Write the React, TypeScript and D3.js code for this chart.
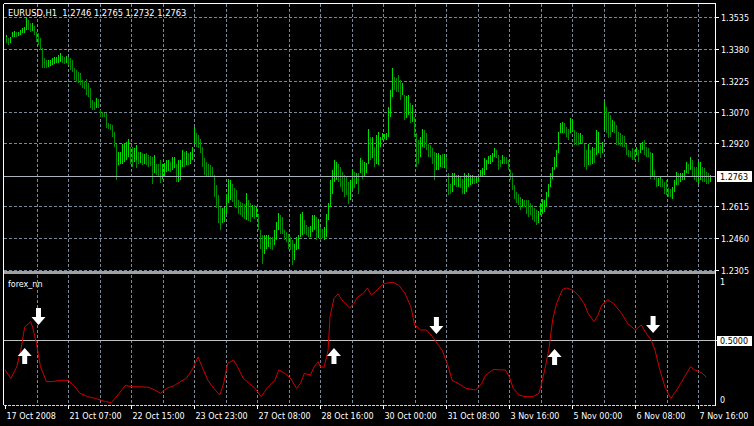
import { useEffect, useRef } from 'react';
import * as d3 from 'd3';

// EURUSD H1 bars (high / low), one entry per hourly bar
const barHigh = [
  1.3446, 1.3438, 1.3430, 1.3438, 1.3462, 1.3467, 1.3462, 1.3462, 1.3470, 1.3478,
  1.3486, 1.3527, 1.3519, 1.3503, 1.3506, 1.3490, 1.3462, 1.3454, 1.3430, 1.3381,
  1.3333, 1.3327, 1.3324, 1.3327, 1.3333, 1.3341, 1.3338, 1.3349, 1.3357, 1.3344,
  1.3338, 1.3344, 1.3338, 1.3333, 1.3324, 1.3284, 1.3276, 1.3268, 1.3260, 1.3227,
  1.3224, 1.3232, 1.3211, 1.3187, 1.3130, 1.3122, 1.3138, 1.3133, 1.3081, 1.3073,
  1.3068, 1.3065, 1.3017, 1.3014, 1.3009, 1.2976, 1.2919, 1.2879, 1.2879, 1.2919,
  1.2916, 1.2928, 1.2939, 1.2903, 1.2903, 1.2895, 1.2911, 1.2911, 1.2879, 1.2879,
  1.2871, 1.2868, 1.2871, 1.2863, 1.2858, 1.2855, 1.2863, 1.2822, 1.2819, 1.2838,
  1.2822, 1.2825, 1.2841, 1.2838, 1.2830, 1.2855, 1.2852, 1.2822, 1.2838, 1.2841,
  1.2887, 1.2879, 1.2884, 1.2871, 1.2879, 1.2903, 1.3000, 1.2968, 1.2960, 1.2939,
  1.2903, 1.2847, 1.2830, 1.2822, 1.2814, 1.2806, 1.2766, 1.2717, 1.2668, 1.2612,
  1.2604, 1.2612, 1.2676, 1.2749, 1.2741, 1.2725, 1.2701, 1.2693, 1.2644, 1.2636,
  1.2628, 1.2625, 1.2680, 1.2644, 1.2628, 1.2620, 1.2620, 1.2612, 1.2579, 1.2498,
  1.2474, 1.2474, 1.2474, 1.2469, 1.2474, 1.2466, 1.2466, 1.2498, 1.2539, 1.2582,
  1.2571, 1.2563, 1.2498, 1.2490, 1.2482, 1.2466, 1.2450, 1.2433, 1.2466, 1.2474,
  1.2579, 1.2587, 1.2547, 1.2523, 1.2514, 1.2517, 1.2571, 1.2571, 1.2563, 1.2555,
  1.2514, 1.2506, 1.2514, 1.2579, 1.2628, 1.2741, 1.2790, 1.2838, 1.2830, 1.2822,
  1.2806, 1.2782, 1.2766, 1.2757, 1.2733, 1.2741, 1.2793, 1.2782, 1.2774, 1.2774,
  1.2847, 1.2838, 1.2830, 1.2825, 1.2992, 1.2952, 1.2952, 1.2903, 1.2960, 1.2976,
  1.2952, 1.2968, 1.2965, 1.2968, 1.3098, 1.3179, 1.3284, 1.3243, 1.3235, 1.3247,
  1.3252, 1.3227, 1.3211, 1.3154, 1.3149, 1.3154, 1.3114, 1.3106, 1.3049, 1.2968,
  1.2936, 1.2952, 1.2992, 1.2984, 1.2968, 1.2919, 1.2911, 1.2895, 1.2879, 1.2871,
  1.2871, 1.2863, 1.2868, 1.2868, 1.2855, 1.2774, 1.2725, 1.2774, 1.2774, 1.2766,
  1.2766, 1.2757, 1.2749, 1.2774, 1.2766, 1.2774, 1.2766, 1.2766, 1.2757, 1.2757,
  1.2766, 1.2793, 1.2798, 1.2847, 1.2838, 1.2858, 1.2863, 1.2871, 1.2895, 1.2887,
  1.2863, 1.2838, 1.2863, 1.2855, 1.2852, 1.2838, 1.2790, 1.2774, 1.2717, 1.2685,
  1.2676, 1.2660, 1.2652, 1.2647, 1.2644, 1.2644, 1.2644, 1.2628, 1.2620, 1.2604,
  1.2595, 1.2592, 1.2628, 1.2652, 1.2647, 1.2685, 1.2725, 1.2774, 1.2806, 1.2855,
  1.2887, 1.2976, 1.3017, 1.3025, 1.3020, 1.3000, 1.2992, 1.3041, 1.3033, 1.2984,
  1.2976, 1.2968, 1.2968, 1.2960, 1.2919, 1.2887, 1.2919, 1.2887, 1.2903, 1.2895,
  1.2984, 1.2976, 1.2911, 1.2928, 1.3122, 1.3098, 1.3073, 1.3057, 1.3033, 1.3030,
  1.3009, 1.2976, 1.2968, 1.2960, 1.2955, 1.2919, 1.2887, 1.2884, 1.2895, 1.2890,
  1.2903, 1.2887, 1.2919, 1.2928, 1.2936, 1.2903, 1.2895, 1.2879, 1.2871, 1.2790,
  1.2757, 1.2754, 1.2757, 1.2749, 1.2749, 1.2733, 1.2741, 1.2701, 1.2696, 1.2709,
  1.2741, 1.2782, 1.2777, 1.2774, 1.2774, 1.2790, 1.2830, 1.2822, 1.2855, 1.2838,
  1.2806, 1.2803, 1.2830, 1.2830, 1.2806, 1.2798, 1.2782, 1.2774, 1.2765,
];

const barLow = [
  1.3405, 1.3405, 1.3397, 1.3405, 1.3435, 1.3438, 1.3435, 1.3441, 1.3446, 1.3454,
  1.3457, 1.3470, 1.3470, 1.3462, 1.3467, 1.3446, 1.3414, 1.3397, 1.3373, 1.3284,
  1.3284, 1.3287, 1.3292, 1.3295, 1.3300, 1.3305, 1.3308, 1.3311, 1.3316, 1.3308,
  1.3305, 1.3308, 1.3300, 1.3276, 1.3268, 1.3227, 1.3219, 1.3211, 1.3203, 1.3187,
  1.3182, 1.3154, 1.3146, 1.3090, 1.3081, 1.3081, 1.3090, 1.3090, 1.3049, 1.3049,
  1.3046, 1.2995, 1.2992, 1.2987, 1.2952, 1.2903, 1.2741, 1.2814, 1.2822, 1.2822,
  1.2830, 1.2838, 1.2855, 1.2822, 1.2806, 1.2830, 1.2798, 1.2838, 1.2822, 1.2825,
  1.2814, 1.2819, 1.2814, 1.2806, 1.2809, 1.2725, 1.2774, 1.2766, 1.2760, 1.2728,
  1.2749, 1.2757, 1.2782, 1.2787, 1.2782, 1.2790, 1.2798, 1.2733, 1.2733, 1.2741,
  1.2806, 1.2806, 1.2814, 1.2814, 1.2822, 1.2838, 1.2919, 1.2903, 1.2895, 1.2871,
  1.2806, 1.2766, 1.2757, 1.2757, 1.2760, 1.2757, 1.2660, 1.2604, 1.2531, 1.2498,
  1.2531, 1.2539, 1.2579, 1.2628, 1.2644, 1.2636, 1.2612, 1.2604, 1.2579, 1.2571,
  1.2563, 1.2555, 1.2547, 1.2544, 1.2539, 1.2563, 1.2555, 1.2563, 1.2498, 1.2409,
  1.2336, 1.2385, 1.2409, 1.2414, 1.2417, 1.2409, 1.2401, 1.2425, 1.2450, 1.2498,
  1.2482, 1.2482, 1.2450, 1.2442, 1.2409, 1.2401, 1.2328, 1.2352, 1.2401, 1.2409,
  1.2466, 1.2474, 1.2482, 1.2474, 1.2463, 1.2466, 1.2490, 1.2498, 1.2450, 1.2458,
  1.2450, 1.2458, 1.2450, 1.2466, 1.2547, 1.2612, 1.2676, 1.2733, 1.2741, 1.2733,
  1.2709, 1.2685, 1.2660, 1.2668, 1.2625, 1.2644, 1.2693, 1.2701, 1.2725, 1.2676,
  1.2774, 1.2749, 1.2757, 1.2774, 1.2822, 1.2838, 1.2847, 1.2806, 1.2822, 1.2814,
  1.2903, 1.2936, 1.2939, 1.2936, 1.2952, 1.3049, 1.3146, 1.3179, 1.3171, 1.3176,
  1.3171, 1.3130, 1.3154, 1.3033, 1.3041, 1.3057, 1.3017, 1.3025, 1.2952, 1.2806,
  1.2822, 1.2855, 1.2903, 1.2895, 1.2887, 1.2855, 1.2855, 1.2822, 1.2741, 1.2790,
  1.2790, 1.2806, 1.2798, 1.2798, 1.2790, 1.2668, 1.2676, 1.2685, 1.2717, 1.2709,
  1.2709, 1.2701, 1.2676, 1.2676, 1.2685, 1.2709, 1.2717, 1.2725, 1.2725, 1.2728,
  1.2733, 1.2757, 1.2757, 1.2766, 1.2790, 1.2822, 1.2822, 1.2830, 1.2855, 1.2847,
  1.2790, 1.2806, 1.2822, 1.2822, 1.2819, 1.2790, 1.2741, 1.2693, 1.2652, 1.2628,
  1.2620, 1.2595, 1.2612, 1.2612, 1.2579, 1.2587, 1.2563, 1.2571, 1.2547, 1.2539,
  1.2523, 1.2531, 1.2571, 1.2579, 1.2587, 1.2612, 1.2660, 1.2709, 1.2749, 1.2790,
  1.2806, 1.2871, 1.2968, 1.2968, 1.2971, 1.2952, 1.2936, 1.2968, 1.2976, 1.2911,
  1.2911, 1.2911, 1.2919, 1.2919, 1.2806, 1.2790, 1.2814, 1.2814, 1.2822, 1.2825,
  1.2863, 1.2871, 1.2847, 1.2871, 1.2984, 1.2968, 1.2944, 1.2952, 1.2976, 1.2971,
  1.2911, 1.2911, 1.2906, 1.2903, 1.2903, 1.2863, 1.2855, 1.2852, 1.2838, 1.2841,
  1.2863, 1.2830, 1.2871, 1.2887, 1.2863, 1.2855, 1.2852, 1.2749, 1.2757, 1.2741,
  1.2709, 1.2712, 1.2717, 1.2709, 1.2706, 1.2676, 1.2668, 1.2660, 1.2660, 1.2652,
  1.2685, 1.2717, 1.2717, 1.2733, 1.2741, 1.2741, 1.2774, 1.2771, 1.2790, 1.2757,
  1.2741, 1.2733, 1.2725, 1.2741, 1.2733, 1.2733, 1.2725, 1.2725, 1.2732,
];

const lastBar = { open: 1.2746, high: 1.2765, low: 1.2732, close: 1.2763 };

const priceTicks = [1.3535, 1.338, 1.3225, 1.307, 1.292, 1.2615, 1.246, 1.2305];

// bottom axis: a label every 32 bars
const timeLabels = [
  '17 Oct 2008', '21 Oct 07:00', '22 Oct 15:00', '23 Oct 23:00', '27 Oct 08:00', '28 Oct 16:00',
  '30 Oct 00:00', '31 Oct 08:00', '3 Nov 16:00', '5 Nov 00:00', '6 Nov 08:00', '7 Nov 16:00',
];

// forex_nn indicator (bar index, value)
const nnBars = [
  0, 3, 6, 8, 10, 13, 14, 16, 18, 21, 24, 28, 32, 35, 38, 42, 46, 51, 54, 58,
  61, 65, 69, 73, 76, 79, 82, 86, 89, 92, 95, 98, 100, 103, 106, 109, 111, 113, 116, 118,
  121, 124, 127, 130, 133, 137, 139, 142, 145, 148, 150, 152, 155, 157, 159, 160, 162, 164, 165, 167,
  169, 171, 175, 177, 179, 182, 184, 186, 189, 191, 193, 197, 200, 203, 206, 208, 211, 214, 217, 220,
  222, 225, 227, 230, 234, 239, 242, 244, 248, 251, 254, 256, 258, 261, 264, 268, 271, 272, 274, 276,
  278, 280, 283, 285, 288, 291, 294, 296, 299, 301, 303, 306, 309, 313, 316, 320, 323, 325, 328, 330,
  332, 335, 338, 341, 343, 345, 348, 350, 352, 354, 356,
];
const nnValues = [
  0.27, 0.205, 0.295, 0.42, 0.6, 0.64, 0.6, 0.47, 0.295, 0.18, 0.18, 0.19, 0.19, 0.15, 0.09, 0.064, 0.05, 0.026, 0.018, 0.09,
  0.15, 0.14, 0.14, 0.136, 0.115, 0.09, 0.128, 0.15, 0.18, 0.205, 0.27, 0.37, 0.295, 0.19, 0.128, 0.077, 0.166, 0.32, 0.346, 0.295,
  0.205, 0.166, 0.128, 0.064, 0.128, 0.19, 0.27, 0.244, 0.205, 0.128, 0.166, 0.244, 0.23, 0.295, 0.333, 0.295, 0.29, 0.42, 0.68, 0.82,
  0.854, 0.81, 0.744, 0.78, 0.83, 0.86, 0.9, 0.846, 0.885, 0.92, 0.936, 0.944, 0.92, 0.86, 0.756, 0.615, 0.577, 0.577, 0.526, 0.46,
  0.42, 0.295, 0.19, 0.166, 0.128, 0.115, 0.166, 0.23, 0.274, 0.27, 0.27, 0.218, 0.128, 0.077, 0.064, 0.064, 0.09, 0.14, 0.27, 0.42,
  0.654, 0.78, 0.89, 0.9, 0.885, 0.846, 0.78, 0.705, 0.64, 0.69, 0.77, 0.81, 0.78, 0.705, 0.628, 0.577, 0.615, 0.564, 0.5, 0.42,
  0.295, 0.14, 0.05, 0.115, 0.166, 0.218, 0.295, 0.27, 0.26, 0.244, 0.213,
];

// buy / sell signal arrows
const upBars = [10, 167, 279];
const upLevels = [0.377, 0.377, 0.37];
const downBars = [17, 219, 329];
const downLevels = [0.685, 0.615, 0.623];

export default function App() {
  const svgRef = useRef<SVGSVGElement>(null);

  useEffect(() => {
    document.body.style.margin = '0';
    document.body.style.background = '#000';
    const svg = d3.select(svgRef.current);
    svg.selectAll('*').remove();

    const left = 4;
    const right = 715;
    const mainTop = 4;
    const mainBottom = 270;
    const subTop = 275;
    const subBottom = 405;
    const gridColor = '#778899';
    const font = 'DejaVu Sans, Verdana, sans-serif';

    const x = d3.scaleLinear().domain([0, 352]).range([5, 698.4]);
    const y = d3.scaleLinear().domain([1.2305, 1.3535]).range([mainBottom, 16.7]);
    const yNN = d3.scaleLinear().domain([0, 1]).range([subBottom, subTop]);
    const px = (v: number) => Math.round(v) + 0.5;

    const g = svg.append('g').attr('shape-rendering', 'crispEdges');

    // vertical grid (every 16 bars)
    const gridBars = d3.range(16, 353, 16);
    [[mainTop, mainBottom], [subTop, subBottom]].forEach(([a, b]) => {
      g.selectAll(null)
        .data(gridBars)
        .enter()
        .append('line')
        .attr('x1', (d) => px(x(d)))
        .attr('x2', (d) => px(x(d)))
        .attr('y1', a)
        .attr('y2', b)
        .attr('stroke', gridColor)
        .attr('stroke-dasharray', '3,2');
    });

    // horizontal grid
    g.selectAll(null)
      .data(priceTicks)
      .enter()
      .append('line')
      .attr('x1', left)
      .attr('x2', right)
      .attr('y1', (d) => px(y(d)))
      .attr('y2', (d) => px(y(d)))
      .attr('stroke', gridColor)
      .attr('stroke-dasharray', '3,2');

    // price bars, 1px wide each, kept on an even pixel column
    const mids = barHigh.map((h, i) => (h + barLow[i]) / 2);
    g.selectAll(null)
      .data(barHigh)
      .enter()
      .append('rect')
      .attr('x', (_, i) => Math.round(x(i) / 2) * 2)
      .attr('width', 1)
      .attr('y', (d) => Math.round(y(d)))
      .attr('height', (d, i) => Math.max(1, Math.round(y(barLow[i])) - Math.round(y(d))))
      .attr('fill', (_, i) => {
        if (i === barHigh.length - 1) return lastBar.close >= lastBar.open ? '#00dc00' : '#008c00';
        return i === 0 || mids[i] >= mids[i - 1] ? '#00dc00' : '#008c00';
      });

    // bid line
    const yBid = px(y(lastBar.close));
    g.append('line')
      .attr('x1', left)
      .attr('x2', right)
      .attr('y1', yBid)
      .attr('y2', yBid)
      .attr('stroke', '#a9b3bd');

    // panel separator
    g.append('rect').attr('x', left).attr('y', 271).attr('width', right - left).attr('height', 3).attr('fill', '#a0a0a0');

    // level 0.5
    const yHalf = px(yNN(0.5));
    g.append('line').attr('x1', left).attr('x2', right).attr('y1', yHalf).attr('y2', yHalf).attr('stroke', '#c0c0c0');

    // borders
    g.append('line').attr('x1', left - 0.5).attr('x2', right + 0.5).attr('y1', 3.5).attr('y2', 3.5).attr('stroke', '#fff');
    g.append('line').attr('x1', 3.5).attr('x2', 3.5).attr('y1', 3.5).attr('y2', subBottom).attr('stroke', '#fff');
    g.append('line').attr('x1', right + 0.5).attr('x2', right + 0.5).attr('y1', 3.5).attr('y2', subBottom + 0.5).attr('stroke', '#fff');
    g.append('line')
      .attr('x1', left)
      .attr('x2', right)
      .attr('y1', subBottom + 0.5)
      .attr('y2', subBottom + 0.5)
      .attr('stroke', '#d0d0d0')
      .attr('stroke-dasharray', '3,1');

    // indicator line
    const nnLine = d3
      .line<number>()
      .x((d) => x(d))
      .y((_, i) => yNN(nnValues[i]));
    svg
      .append('path')
      .attr('d', nnLine(nnBars))
      .attr('fill', 'none')
      .attr('stroke', '#d00000')
      .attr('stroke-width', 1);

    // signal arrows
    const upArrow = 'M0,-8 L7,0 L2.5,0 L2.5,8 L-2.5,8 L-2.5,0 L-7,0 Z';
    const downArrow = 'M0,9 L7,1 L2.5,1 L2.5,-8 L-2.5,-8 L-2.5,1 L-7,1 Z';
    svg
      .selectAll(null)
      .data(upBars)
      .enter()
      .append('path')
      .attr('d', upArrow)
      .attr('transform', (d, i) => `translate(${x(d)},${yNN(upLevels[i])})`)
      .attr('fill', '#fff');
    svg
      .selectAll(null)
      .data(downBars)
      .enter()
      .append('path')
      .attr('d', downArrow)
      .attr('transform', (d, i) => `translate(${x(d)},${yNN(downLevels[i])})`)
      .attr('fill', '#fff');

    // texts
    const txt = svg.append('g').attr('font-family', font).attr('font-size', 8).attr('fill', '#fff');

    txt
      .append('text')
      .attr('x', 8)
      .attr('y', 16)
      .attr('font-size', 8.3)
      .attr('xml:space', 'preserve')
      .text(`EURUSD,H1  ${lastBar.open.toFixed(4)} ${lastBar.high.toFixed(4)} ${lastBar.low.toFixed(4)} ${lastBar.close.toFixed(4)}`);

    txt.append('text').attr('x', 8).attr('y', 287).text('forex_nn');

    // right price axis
    priceTicks.forEach((p) => {
      const yy = px(y(p));
      g.append('line').attr('x1', right).attr('x2', right + 4).attr('y1', yy).attr('y2', yy).attr('stroke', '#fff');
      txt.append('text').attr('x', 721).attr('y', yy + 3).text(p.toFixed(4));
    });

    // bid price box
    g.append('rect').attr('x', 717).attr('y', yBid - 5.5).attr('width', 35).attr('height', 11).attr('fill', '#fff');
    txt.append('text').attr('x', 720).attr('y', yBid + 3).attr('fill', '#000').text(lastBar.close.toFixed(4));

    // indicator axis
    g.append('line').attr('x1', right).attr('x2', right + 4).attr('y1', yHalf).attr('y2', yHalf).attr('stroke', '#fff');
    g.append('rect').attr('x', 717).attr('y', yHalf - 5).attr('width', 35).attr('height', 10).attr('fill', '#fff');
    txt.append('text').attr('x', 720).attr('y', yHalf + 3).attr('fill', '#000').text((0.5).toFixed(4));
    txt.append('text').attr('x', 720).attr('y', yNN(1) + 10).text('1');
    txt.append('text').attr('x', 720).attr('y', yNN(0) - 2).text('0');

    // bottom time axis
    timeLabels.forEach((label, k) => {
      const xx = px(x(k * 32));
      g.append('line').attr('x1', xx).attr('x2', xx).attr('y1', subBottom).attr('y2', subBottom + 4).attr('stroke', '#fff');
      txt.append('text').attr('x', xx + 1).attr('y', 419).text(label);
    });
  }, []);

  return <svg ref={svgRef} width={754} height={426} style={{ display: 'block', background: '#000' }} />;
}
